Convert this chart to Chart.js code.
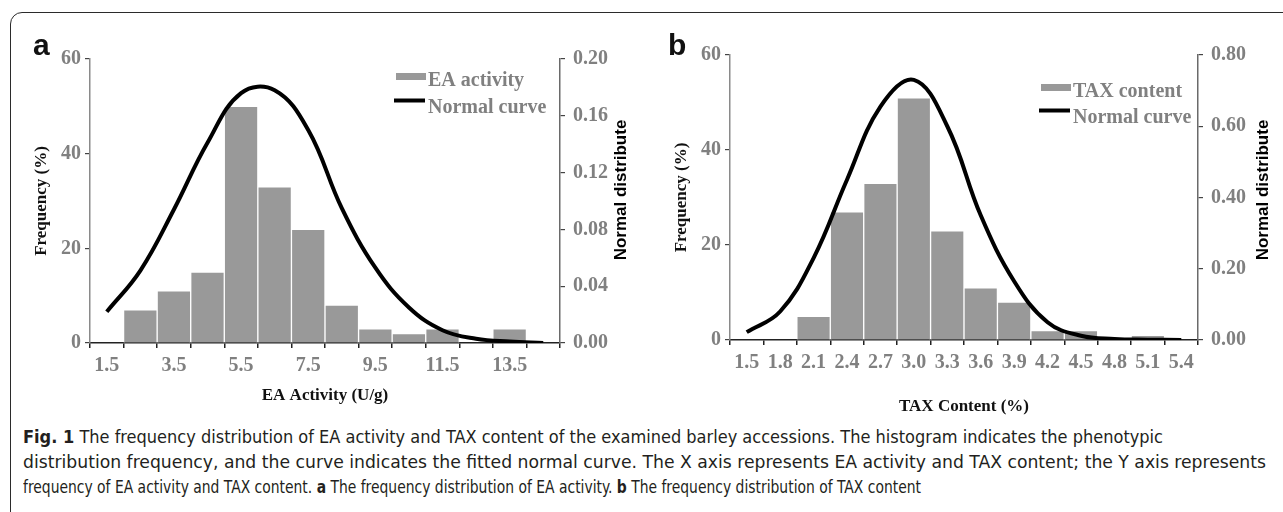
<!DOCTYPE html>
<html>
<head>
<meta charset="utf-8">
<script src="https://cdn.jsdelivr.net/npm/chart.js@4/dist/chart.umd.min.js"></script>
<style>
html,body{margin:0;padding:0;background:#fff;width:1283px;height:512px;overflow:hidden;}
#frame{position:absolute;left:10px;top:12px;width:1320px;height:620px;border:1.5px solid #2b2b2b;border-radius:12px;box-sizing:border-box;}
.panel{position:absolute;top:0;height:420px;}
#pa{left:0;width:640px;}
#pb{left:640px;width:643px;}
.letter{position:absolute;top:30px;font:bold 30px/1 "Liberation Sans",Arial,sans-serif;color:#111;}
#caption{position:absolute;left:23px;top:424px;font:18px/25px "DejaVu Sans Condensed","DejaVu Sans","Open Sans",sans-serif;font-stretch:condensed;color:#231f20;}
.cl{display:block;white-space:nowrap;transform-origin:0 0;}
.cl span.in{display:inline-block;}
</style>
</head>
<body>
<div id="frame"></div>
<div class="panel" id="pa"><canvas id="ca" width="640" height="420"></canvas></div>
<div class="panel" id="pb"><canvas id="cb" width="643" height="420"></canvas></div>
<div class="letter" style="left:33px;">a</div>
<div class="letter" style="left:668px;">b</div>
<div id="caption">
  <div class="cl" data-w="1140"><span class="in"><b>Fig. 1</b> The frequency distribution of EA activity and TAX content of the examined barley accessions. The histogram indicates the phenotypic</span></div>
  <div class="cl" data-w="1243"><span class="in">distribution frequency, and the curve indicates the fitted normal curve. The X axis represents EA activity and TAX content; the Y axis represents</span></div>
  <div class="cl" data-w="898"><span class="in">frequency of EA activity and TAX content. <b>a</b> The frequency distribution of EA activity. <b>b</b> The frequency distribution of TAX content</span></div>
</div>
<script>
// ---------- Data ----------
const eaBins = ['1.5','2.5','3.5','4.5','5.5','6.5','7.5','8.5','9.5','10.5','11.5','12.5','13.5','14.5'];
const eaTickLabels = ['1.5','','3.5','','5.5','','7.5','','9.5','','11.5','','13.5',''];
const eaFrequency = [0, 7, 11, 15, 50, 33, 24, 8, 3, 2, 3, 0, 3, 0];
const eaNormal = [0.022, 0.051, 0.094, 0.141, 0.176, 0.178, 0.150, 0.095, 0.053, 0.025, 0.009, 0.003, 0.001, 0.000];

const taxBins = ['1.5','1.8','2.1','2.4','2.7','3.0','3.3','3.6','3.9','4.2','4.5','4.8','5.1','5.4'];
const taxTickLabels = taxBins.slice();
const taxFrequency = [0, 0, 5, 27, 33, 51, 23, 11, 8, 2, 2, 0, 1, 0];
const taxNormal = [0.022, 0.080, 0.230, 0.450, 0.655, 0.730, 0.600, 0.350, 0.165, 0.050, 0.012, 0.003, 0.001, 0.000];

const freqTicks = {min: 0, max: 60, step: 20};
const eaNormalTicks = {min: 0, max: 0.20, step: 0.04};
const taxNormalTicks = {min: 0, max: 0.80, step: 0.20};

// ---------- Styling ----------
const SERIF = '"Liberation Serif","Times New Roman",serif';
const SANS = '"Liberation Sans",Arial,sans-serif';
const tickFont = {family: SERIF, weight: 'bold', size: 20};
const GRAY_TXT = '#808080';

const decor = {
  id: 'panelDecor',
  afterDraw(chart, args, o) {
    const ctx = chart.ctx;
    const y1 = chart.scales.y1;
    ctx.save();
    ctx.font = 'bold 17px ' + SANS;
    ctx.fillStyle = '#000';
    ctx.translate(o.rightTitleX, o.rightTitleY);
    ctx.rotate(-Math.PI / 2);
    ctx.textAlign = 'center';
    ctx.textBaseline = 'middle';
    ctx.fillText(y1.options.title.text, 0, 0);
    ctx.restore();

    const line = chart.data.datasets[0];
    const bar = chart.data.datasets[1];
    ctx.save();
    ctx.font = 'bold 20px ' + SERIF;
    ctx.textAlign = 'left';
    ctx.textBaseline = 'alphabetic';
    ctx.fillStyle = bar.backgroundColor;
    ctx.fillRect(o.legendX, o.legendY - 13, 30, 7);
    ctx.fillStyle = GRAY_TXT;
    ctx.fillText(bar.label, o.legendX + 32, o.legendY);
    const y2 = o.legendY + o.legendGap;
    ctx.strokeStyle = line.borderColor;
    ctx.lineWidth = 4;
    ctx.beginPath();
    ctx.moveTo(o.legendX - 2, y2 - 12.5);
    ctx.lineTo(o.legendX + 29, y2 - 12.5);
    ctx.stroke();
    ctx.fillText(line.label, o.legendX + 32, y2);
    ctx.restore();
  }
};

function makeChart(id, c) {
  return new Chart(document.getElementById(id), {
    type: 'bar',
    data: {
      labels: c.labels,
      datasets: [
        {type: 'line', label: 'Normal curve', data: c.curve, yAxisID: 'y1',
         borderColor: '#000', borderWidth: 4, pointRadius: 0, tension: 0.4, fill: false, order: 1},
        {type: 'bar', label: c.barLabel, data: c.freq, yAxisID: 'y',
         backgroundColor: '#999999', borderColor: '#ffffff',
         borderWidth: {top: 1, left: 1, right: 1, bottom: 0},
         barPercentage: 1, categoryPercentage: 1, order: 2}
      ]
    },
    options: {
      responsive: false, maintainAspectRatio: false, animation: false,
      layout: {padding: {top: c.padTop, left: 0, right: 0, bottom: 0}},
      plugins: {
        legend: {display: false}, tooltip: {enabled: false},
        panelDecor: c.decor
      },
      scales: {
        x: {
          offset: true,
          grid: {display: true, offset: true, drawOnChartArea: false, drawTicks: true, tickLength: 5, color: '#222', lineWidth: 1.5},
          border: {display: true, color: '#222', width: 1.5},
          ticks: {autoSkip: false, maxRotation: 0, minRotation: 0, color: GRAY_TXT, font: tickFont, padding: 6,
                  callback: (v, i) => c.tickLabels[i]},
          title: {display: true, text: c.xTitle, color: '#111', font: {family: SERIF, weight: 'bold', size: 17},
                  padding: {top: 0, bottom: c.xTitlePad}},
          afterFit: s => { s.height = c.xHeight; }
        },
        y: {
          position: 'left', min: freqTicks.min, max: freqTicks.max,
          ticks: {stepSize: freqTicks.step, color: GRAY_TXT, font: tickFont, padding: 4},
          grid: {display: true, drawOnChartArea: false, drawTicks: true, tickLength: 5, color: '#444', lineWidth: 1.2},
          border: {display: true, color: '#8a8a8a', width: 1.5},
          title: {display: true, text: 'Frequency (%)', color: '#111', font: {family: SERIF, weight: 'bold', size: 17},
                  padding: {top: 31, bottom: 0}},
          afterFit: s => { s.width = 90; }
        },
        y1: {
          position: 'right', min: c.nTicks.min, max: c.nTicks.max,
          ticks: {stepSize: c.nTicks.step, color: GRAY_TXT, font: tickFont, padding: 8,
                  callback: v => Number(v).toFixed(2)},
          grid: {display: true, drawOnChartArea: false, drawTicks: true, tickLength: 5, color: '#444', lineWidth: 1.2},
          border: {display: true, color: '#6a6a6a', width: 1.5},
          title: {display: false, text: 'Normal distribute'},
          afterFit: s => { s.width = c.rightWidth; }
        }
      }
    },
    plugins: [decor]
  });
}

makeChart('ca', {
  labels: eaBins, tickLabels: eaTickLabels, freq: eaFrequency, curve: eaNormal,
  barLabel: 'EA activity', xTitle: 'EA Activity (U/g)', nTicks: eaNormalTicks,
  padTop: 59, xHeight: 77, rightWidth: 80, xTitlePad: 14,
  decor: {rightTitleX: 621, rightTitleY: 190, legendX: 396, legendY: 86, legendGap: 27}
});
makeChart('cb', {
  labels: taxBins, tickLabels: taxTickLabels, freq: taxFrequency, curve: taxNormal,
  barLabel: 'TAX content', xTitle: 'TAX Content (%)', nTicks: taxNormalTicks,
  padTop: 55, xHeight: 80, rightWidth: 85, xTitlePad: 3,
  decor: {rightTitleX: 623, rightTitleY: 190, legendX: 401, legendY: 97, legendGap: 26}
});

// fit each caption line to the width it has in the figure
document.querySelectorAll('.cl').forEach(el => {
  const w = el.querySelector('.in').getBoundingClientRect().width;
  el.style.transform = 'scaleX(' + (+el.dataset.w / w) + ')';
});
</script>
</body>
</html>
